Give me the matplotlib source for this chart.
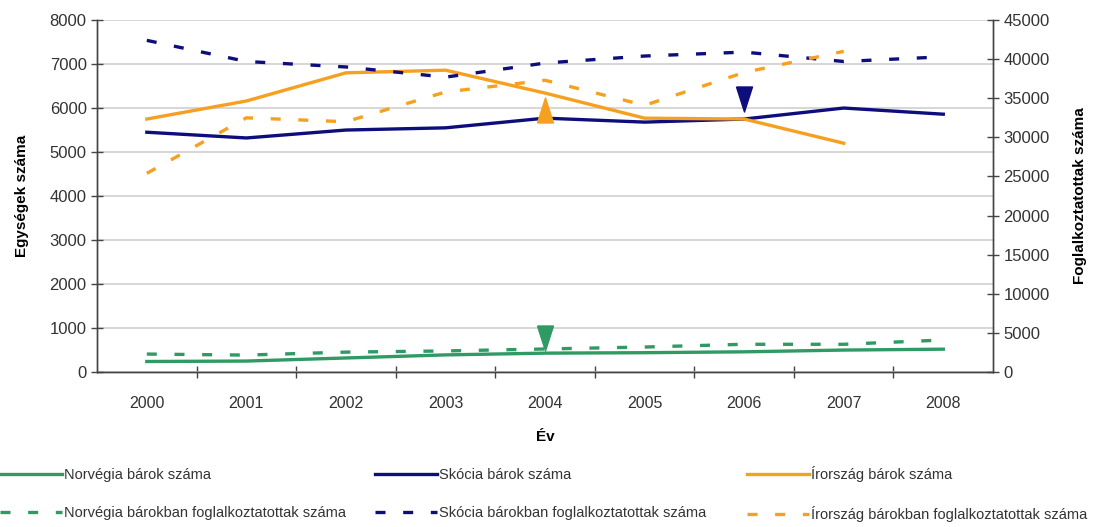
import numpy as np
import matplotlib
matplotlib.use('Agg')
import matplotlib.pyplot as plt
from matplotlib.path import Path

# Adatok (leolvasva az eredeti ábráról)
evek = ['2000', '2001', '2002', '2003', '2004', '2005', '2006', '2007', '2008']

norvegia_barok = [240, 250, 320, 390, 430, 440, 460, 500, 520]
skocia_barok = [5450, 5320, 5500, 5550, 5770, 5680, 5750, 6000, 5860]
irorszag_barok = [5750, 6160, 6800, 6860, 6340, 5770, 5750, 5200, np.nan]

norvegia_fogl = [2300, 2170, 2550, 2700, 2950, 3200, 3550, 3550, 4100]
skocia_fogl = [42400, 39700, 39000, 37700, 39500, 40400, 40900, 39700, 40300]
irorszag_fogl = [25400, 32500, 32000, 35800, 37300, 34100, 38300, 41000, np.nan]

# Nyilak (háromszögek) helye: (év index, érték a bal tengelyen, irány)
nyilak = [(4, 5950, 'fel', 'orange'), (6, 6200, 'le', 'navy'), (4, 770, 'le', 'green')]

szinek = {'green': '#2f9a63', 'navy': '#0d0d7c', 'orange': '#f6a01f'}

plt.rcParams['font.family'] = ['Liberation Sans', 'DejaVu Sans']

fig = plt.figure(figsize=(10.99, 5.27), dpi=100)
ax = fig.add_axes([0.0883, 0.294, 0.8153, 0.668])
ax2 = ax.twinx()

x = np.arange(len(evek))
lw = 2.4
dash = (0, (3, 5.3))

l1, = ax.plot(x, norvegia_barok, color=szinek['green'], lw=lw, label='Norvégia bárok száma')
l2, = ax.plot(x, skocia_barok, color=szinek['navy'], lw=lw, label='Skócia bárok száma')
l3, = ax.plot(x, irorszag_barok, color=szinek['orange'], lw=lw, label='Írország bárok száma')
d1, = ax2.plot(x, norvegia_fogl, color=szinek['green'], lw=lw, ls=dash,
               label='Norvégia bárokban foglalkoztatottak száma')
d2, = ax2.plot(x, skocia_fogl, color=szinek['navy'], lw=lw, ls=dash,
               label='Skócia bárokban foglalkoztatottak száma')
d3, = ax2.plot(x, irorszag_fogl, color=szinek['orange'], lw=lw, ls=dash,
               label='Írország bárokban foglalkoztatottak száma')

# keskeny háromszög marker
fel = Path([(-0.32, -0.5), (0.32, -0.5), (0, 0.5), (-0.32, -0.5)])
le = Path([(-0.32, 0.5), (0.32, 0.5), (0, -0.5), (-0.32, 0.5)])
for i, v, irany, c in nyilak:
    ax2.plot([i], [v * 45000 / 8000], marker=fel if irany == 'fel' else le,
             ms=18, color=szinek[c], mec=szinek[c], ls='none', zorder=5)

ax.set_xlim(-0.5, len(evek) - 0.5)
ax.set_ylim(0, 8000)
ax2.set_ylim(0, 45000)
ax.set_yticks(np.arange(0, 8001, 1000))
ax2.set_yticks(np.arange(0, 45001, 5000))
ax.set_xticks(x)
ax.set_xticks(np.arange(-0.5, len(evek), 1)[1:-1], minor=True)
ax.set_xticklabels(evek, fontsize=11.5, color='#333333')
ax.tick_params(axis='x', which='major', length=0, pad=17)
ax.tick_params(axis='x', which='minor', direction='inout', length=9, width=1, color='#444444')
ax.tick_params(axis='y', direction='inout', length=9, width=1, color='#444444',
               labelsize=12, labelcolor='#333333', pad=3)
ax2.tick_params(axis='y', direction='inout', length=9, width=1, color='#444444',
                labelsize=12, labelcolor='#333333', pad=3)

ax.grid(axis='y', color='#cfcfcf', lw=1.2)
ax.set_axisbelow(True)

for a in (ax, ax2):
    a.spines['top'].set_visible(False)
    for s in ('left', 'right', 'bottom'):
        a.spines[s].set_color('#444444')
        a.spines[s].set_linewidth(1)

ax.set_xlabel('Év', fontweight='bold', fontsize=11, labelpad=14)
ax.set_ylabel('Egységek száma', fontweight='bold', fontsize=11, labelpad=15)
ax2.set_ylabel('Foglalkoztatottak száma', fontweight='bold', fontsize=11, labelpad=17)

# jelmagyarázat: három oszlop, rögzített helyen
oszlopok = [(l1, d1, 0.0), (l2, d2, 375 / 1099), (l3, d3, 747 / 1099)]
for h1, h2, xpos in oszlopok:
    leg = fig.legend(handles=[h1, h2], loc='center left', bbox_to_anchor=(xpos, 0.0626),
                     frameon=False, handlelength=4.25, handletextpad=0.15,
                     labelspacing=1.6, borderpad=0, borderaxespad=0,
                     prop={'size': 10.5})
    for t in leg.get_texts():
        t.set_color('#333333')

fig.savefig('out.png', dpi=100)
